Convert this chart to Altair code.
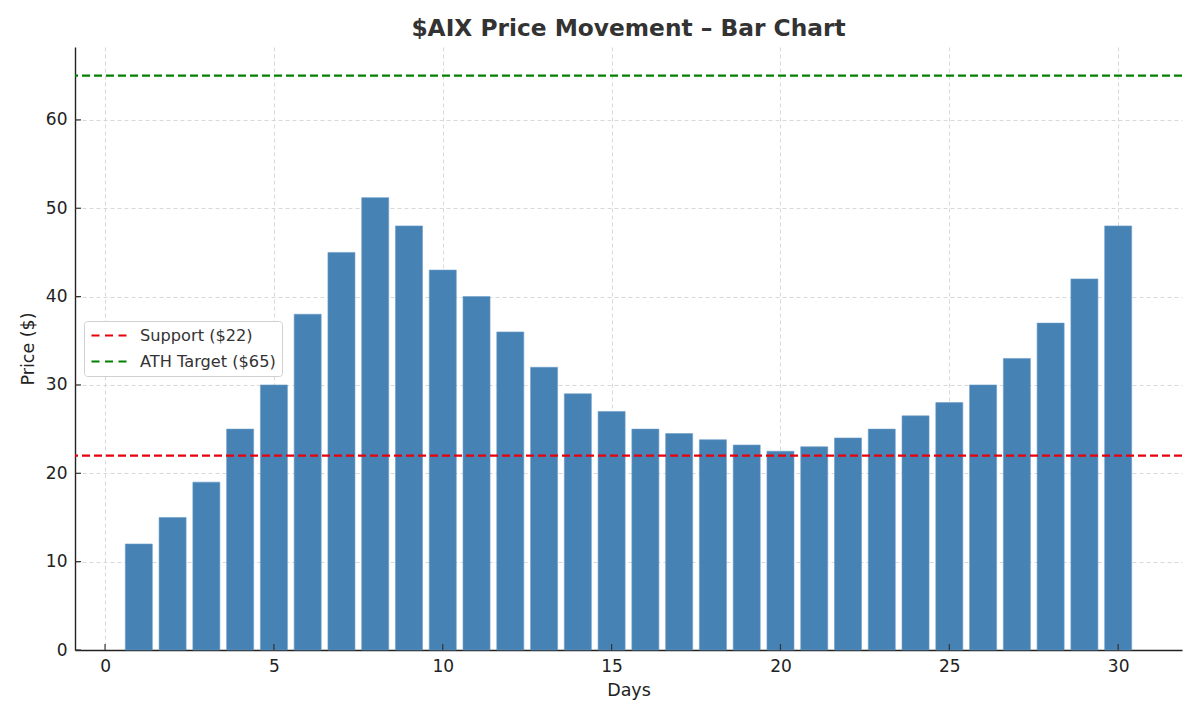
import altair as alt
import pandas as pd

days = list(range(1, 31))
prices = [12, 15, 19, 25, 30, 38, 45, 51.2, 48, 43, 40, 36, 32, 29, 27,
          25, 24.5, 23.8, 23.2, 22.5, 23, 24, 25, 26.5, 28, 30, 33, 37, 42, 48]
line_names = ["Support ($22)", "ATH Target ($65)"]
line_values = [22, 65]
line_colors = ["#e8000b", "#008000"]
x_ticks = [0, 5, 10, 15, 20, 25, 30]
y_ticks = [0, 10, 20, 30, 40, 50, 60]

W, H = 1107, 603
bar_df = pd.DataFrame({"day": days, "price": prices})
line_df = pd.DataFrame({"name": line_names, "value": line_values})
xt_df = pd.DataFrame({"t": x_ticks})
yt_df = pd.DataFrame({"t": y_ticks})

xscale = alt.Scale(domain=[-0.89, 31.89], nice=False, zero=False)
yscale = alt.Scale(domain=[0, 68.25], nice=False)

bars = alt.Chart(bar_df).transform_calculate(
    x0="datum.day - 0.4", x1="datum.day + 0.4"
).mark_bar(color="#4682B4", stroke="#6a9cc8", strokeWidth=0.6).encode(
    x=alt.X("x0:Q", scale=xscale,
            axis=alt.Axis(values=x_ticks, title="Days", grid=True, ticks=False)),
    x2="x1:Q",
    y=alt.Y("price:Q", scale=yscale,
            axis=alt.Axis(values=y_ticks, title="Price ($)", grid=True, ticks=False)),
    y2=alt.datum(0),
)

rules = alt.Chart(line_df).mark_rule(strokeDash=[8, 4], strokeWidth=2.2).encode(
    y=alt.Y("value:Q", scale=yscale),
    color=alt.Color("name:N", sort=line_names,
                    scale=alt.Scale(domain=line_names, range=line_colors),
                    legend=alt.Legend(title=None, orient="none", legendX=9, legendY=274,
                                      symbolType="M-1,0H4", symbolStrokeWidth=2.2,
                                      symbolDash=[8, 5.5], symbolSize=196,
                                      symbolOffset=0,
                                      labelFontSize=16.2, labelColor="#333",
                                      labelFont="DejaVu Sans", labelOffset=33,
                                      fillColor="white", strokeColor="#d0d0d0",
                                      cornerRadius=3, padding=6, rowPadding=9)),
)

xt = alt.Chart(xt_df).mark_rule(color="#333", strokeWidth=1.2).encode(
    x=alt.X("t:Q", scale=xscale), y=alt.value(H), y2=alt.value(H - 6))
yt = alt.Chart(yt_df).mark_rule(color="#333", strokeWidth=1.2).encode(
    y=alt.Y("t:Q", scale=yscale), x=alt.value(0), x2=alt.value(6))

chart = alt.layer(bars, rules, xt, yt).properties(
    width=W, height=H,
    title=alt.TitleParams("$AIX Price Movement \u2013 Bar Chart", fontSize=23.3,
                          font="DejaVu Sans", fontWeight="bold", color="#333",
                          anchor="middle", offset=6),
    autosize=alt.AutoSizeParams(type="none"),
    padding={"left": 67, "top": 39, "right": 10, "bottom": 62},
).configure_view(stroke=None).configure_axis(
    labelFont="DejaVu Sans", titleFont="DejaVu Sans", labelFontSize=17,
    titleFontSize=17.5, labelColor="#222", titleColor="#222", titleFontWeight="normal",
    domainColor="#222", domainWidth=1.4, gridColor="#cfcfcf", gridDash=[4, 3],
    gridWidth=0.8, labelPadding=8,
).configure_axisX(titlePadding=7).configure_axisY(titlePadding=8)

chart.save("out.html", embed_options={"renderer": "svg", "actions": False})
